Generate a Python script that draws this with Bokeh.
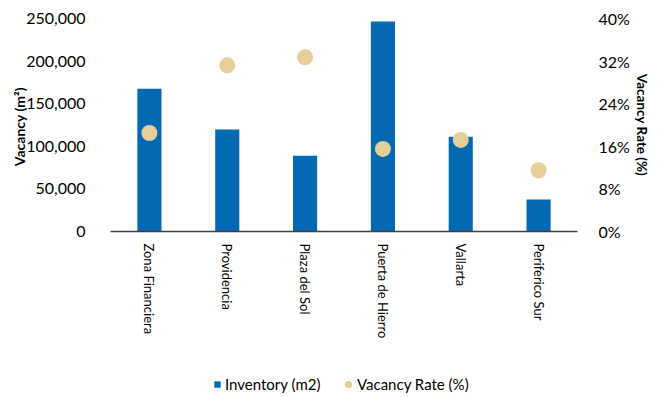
from bokeh.plotting import figure
from bokeh.layouts import column
from bokeh.models import (Range1d, LinearAxis, NumeralTickFormatter, PrintfTickFormatter,
                          FixedTicker, Legend, LegendItem, ColumnDataSource)
from bokeh.embed import file_html
from bokeh.resources import INLINE

# Submarket inventory and vacancy rate
submarkets = ["Zona Financiera", "Providencia", "Plaza del Sol", "Puerta de Hierro", "Vallarta", "Periferico Sur"]
inventory_m2 = [167500, 119700, 88800, 246500, 111100, 37600]
vacancy_rate_pct = [18.5, 31.2, 32.7, 15.5, 17.2, 11.5]

FONT = "Lato"
BLUE = "#0369B3"
GOLD = "#E5CE98"

source = ColumnDataSource(dict(sub=submarkets, inv=inventory_m2, rate=vacancy_rate_pct))

p = figure(x_range=submarkets, y_range=Range1d(0, 250000), width=663, height=362,
           output_backend="svg", toolbar_location=None,
           min_border_left=110, min_border_right=86, min_border_top=18, min_border_bottom=131)
p.outline_line_color = None
p.xgrid.visible = False
p.ygrid.visible = False
p.extra_y_ranges = {"rate": Range1d(0, 40)}

bars = p.vbar(x="sub", top="inv", width=0.31, source=source, fill_color=BLUE, line_color=None)
dots = p.scatter(x="sub", y="rate", size=16, source=source, y_range_name="rate",
                 fill_color=GOLD, line_color=None)

# left axis: inventory
ya = p.yaxis[0]
ya.ticker = FixedTicker(ticks=[0, 50000, 100000, 150000, 200000, 250000])
ya.formatter = NumeralTickFormatter(format="0,0")
ya.axis_line_color = None
ya.major_tick_line_color = None
ya.minor_tick_line_color = None
ya.major_label_standoff = 19
ya.major_label_text_font = FONT
ya.major_label_text_font_size = "16px"
ya.major_label_text_color = "#000000"
ya.axis_label = "Vacancy  (m²)"
ya.axis_label_text_font = FONT
ya.axis_label_text_font_size = "14px"
ya.axis_label_text_font_style = "bold"
ya.axis_label_text_color = "#000000"
ya.axis_label_standoff = -5

# right axis: vacancy rate
ra = LinearAxis(y_range_name="rate")
ra.ticker = FixedTicker(ticks=[0, 8, 16, 24, 32, 40])
ra.formatter = PrintfTickFormatter(format="%d%%")
ra.axis_line_color = None
ra.major_tick_line_color = None
ra.minor_tick_line_color = None
ra.major_label_standoff = 15
ra.major_label_text_font = FONT
ra.major_label_text_font_size = "16px"
ra.major_label_text_color = "#000000"
ra.axis_label = "Vacancy Rate (%)"
ra.axis_label_text_font = FONT
ra.axis_label_text_font_size = "13.5px"
ra.axis_label_text_font_style = "bold"
ra.axis_label_text_color = "#000000"
ra.axis_label_standoff = 1
p.add_layout(ra, "right")

# category axis
xa = p.xaxis[0]
xa.axis_line_color = "#404040"
xa.axis_line_width = 1.5
xa.major_tick_line_color = None
xa.minor_tick_line_color = None
xa.major_label_orientation = "vertical"
xa.major_label_standoff = 6
xa.major_label_text_font = FONT
xa.major_label_text_font_size = "13px"
xa.major_label_text_color = "#000000"

# legend strip under the chart; its series are hidden so only the legend keys show
lg = figure(width=663, height=35, x_range=p.x_range, y_range=Range1d(0, 1),
            x_axis_type=None, y_axis_type=None, output_backend="svg", toolbar_location=None,
            min_border=0)
lg.outline_line_color = None
lg.xgrid.visible = False
lg.ygrid.visible = False
key_bar = lg.vbar(x="sub", top="inv", width=0.31, source=source, fill_color=BLUE, line_color=None)
key_dot = lg.scatter(x="sub", y="rate", size=16, source=source,
                     fill_color=GOLD, line_color=None)
key_bar.visible = False
key_dot.visible = False

legend_style = dict(orientation="horizontal", padding=0, margin=0,
                    label_text_font=FONT, label_text_font_size="15px",
                    label_text_color="#000000",
                    border_line_color=None, background_fill_alpha=0)

legend_inv = Legend(items=[LegendItem(label="Inventory (m2)", renderers=[key_bar])],
                    location=(103, 4), glyph_width=8, glyph_height=8, label_standoff=4,
                    **legend_style)
legend_rate = Legend(items=[LegendItem(label="Vacancy Rate (%)", renderers=[key_dot])],
                     location=(229, 4), glyph_width=18, glyph_height=18, label_standoff=0,
                     **legend_style)
lg.add_layout(legend_inv, "center")
lg.add_layout(legend_rate, "center")

layout = column(p, lg, spacing=0)
open("out.html", "w").write(file_html(layout, INLINE))
